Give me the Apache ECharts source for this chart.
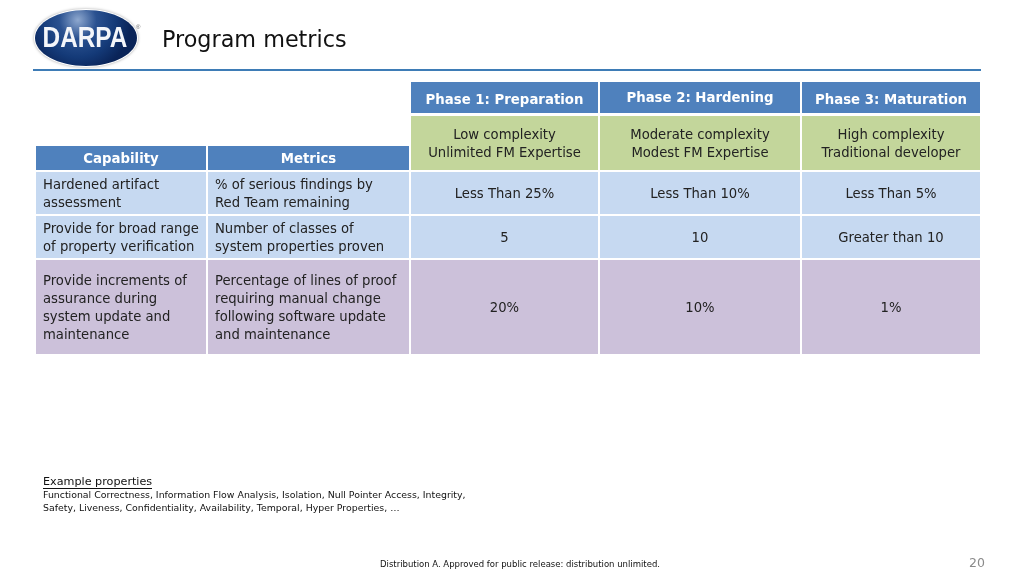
<!DOCTYPE html>
<html><head><meta charset="utf-8">
<script src="https://cdn.jsdelivr.net/npm/echarts@6/dist/echarts.min.js"></script>
<style>html,body{margin:0;padding:0;background:#fff}#c{width:1024px;height:576px}</style>
</head><body><div id="c"></div>
<script>
// ---- data ----
const phases = ['Phase 1: Preparation', 'Phase 2: Hardening', 'Phase 3: Maturation'];
const phaseDescriptions = ['Low complexity\nUnlimited FM Expertise', 'Moderate complexity\nModest FM Expertise', 'High complexity\nTraditional developer'];
const headerLabels = ['Capability', 'Metrics'];
const capabilities = ['Hardened artifact\nassessment', 'Provide for broad range\nof property verification', 'Provide increments of\nassurance during\nsystem update and\nmaintenance'];
const metrics = ['% of serious findings by\nRed Team remaining', 'Number of classes of\nsystem properties proven', 'Percentage of lines of proof\nrequiring manual change\nfollowing software update\nand maintenance'];
const phase1Targets = ['Less Than 25%', '5', '20%'];
const phase2Targets = ['Less Than 10%', '10', '10%'];
const phase3Targets = ['Less Than 5%', 'Greater than 10', '1%'];
const title = 'Program metrics';
const exampleTitle = 'Example properties';
const exampleText = 'Functional Correctness, Information Flow Analysis, Isolation, Null Pointer Access, Integrity,\nSafety, Liveness, Confidentiality, Availability, Temporal, Hyper Properties, …';
const footer = 'Distribution A. Approved for public release: distribution unlimited.';
const pageNumber = '20';

// ---- layout ----
const FONT = 'Tahoma, "DejaVu Sans", Verdana, sans-serif';
const colEdges = [35, 207, 410, 599, 801, 981];
const gap = 1;
const rowBands = { phase: [82, 113], desc: [116, 170], head: [146, 170], body: [[172, 214], [216, 258], [260, 354]] };
const C = { header: '#4F81BD', green: '#C3D69B', blue: '#C6D9F1', purple: '#CCC1DA', text: '#222' };

const targets = [phase1Targets, phase2Targets, phase3Targets];
const cells = [];
phases.forEach((p, i) => cells.push({ c: 2 + i, band: rowBands.phase, text: p, fill: C.header, bold: true, color: '#fff', align: 'center', dy: i === 1 ? -1 : 1 }));
phaseDescriptions.forEach((p, i) => cells.push({ c: 2 + i, band: rowBands.desc, text: p, fill: C.green, color: C.text, align: 'center' }));
headerLabels.forEach((p, i) => cells.push({ c: i, band: rowBands.head, text: p, fill: C.header, bold: true, color: '#fff', align: 'center' }));
capabilities.forEach((cap, r) => {
  const fill = r === 2 ? C.purple : C.blue;
  const band = rowBands.body[r];
  cells.push({ c: 0, band, text: cap, fill, color: C.text, align: 'left' });
  cells.push({ c: 1, band, text: metrics[r], fill, color: C.text, align: 'left' });
  targets.forEach((t, k) => cells.push({ c: 2 + k, band, text: t[r], fill, color: C.text, align: 'center' }));
});

const chart = echarts.init(document.getElementById('c'), null, { renderer: 'canvas' });
chart.setOption({
  backgroundColor: '#fff',
  animation: false,
  grid: { left: 0, right: 0, top: 0, bottom: 0 },
  xAxis: { type: 'value', min: 0, max: 1024, show: false },
  yAxis: { type: 'value', min: 0, max: 576, inverse: true, show: false },
  series: [{
    type: 'custom',
    coordinateSystem: 'cartesian2d',
    data: cells.map((d, i) => [i]),
    renderItem: function (params, api) {
      const d = cells[api.value(0)];
      const p0 = api.coord([colEdges[d.c], d.band[0]]);
      const p1 = api.coord([colEdges[d.c + 1], d.band[1]]);
      const w = p1[0] - p0[0] - gap * 2, h = p1[1] - p0[1];
      const tx = d.align === 'left' ? p0[0] + 8 : (p0[0] + p1[0]) / 2;
      return {
        type: 'group',
        children: [
          { type: 'rect', shape: { x: p0[0] + gap, y: p0[1], width: w, height: h }, style: { fill: d.fill } },
          { type: 'text', x: tx, y: (p0[1] + p1[1]) / 2 + 2 + (d.dy || 0),
            style: { text: d.text, fill: d.color, align: d.align, verticalAlign: 'middle',
              font: (d.bold ? 'bold 13.3px ' : '13.2px ') + FONT, lineHeight: 18 } }
        ]
      };
    }
  }],
  graphic: [
    { type: 'ellipse', shape: { cx: 86, cy: 38, rx: 52, ry: 29 },
      style: { fill: '#fff', shadowBlur: 3, shadowColor: 'rgba(0,0,0,0.35)' } },
    { type: 'ellipse', shape: { cx: 86, cy: 38, rx: 51, ry: 28 },
      style: { fill: { type: 'radial', x: 0.42, y: 0.18, r: 0.95, colorStops: [{ offset: 0, color: '#8ea8cf' }, { offset: 0.35, color: '#2a5190' }, { offset: 0.7, color: '#143a78' }, { offset: 1, color: '#0a2458' }] } } },
    { type: 'text', x: 85, y: 39, scaleX: 0.84, originX: 0,
      style: { text: 'DARPA', fill: '#f4f6fa', font: 'bold 29px "Liberation Sans", Arial, sans-serif', align: 'center', verticalAlign: 'middle' } },
    { type: 'text', x: 136, y: 27, style: { text: '®', fill: '#666', font: '6px sans-serif', align: 'left', verticalAlign: 'middle' } },
    { type: 'text', x: 162, y: 41, style: { text: title, fill: '#111', font: '22.3px ' + FONT, verticalAlign: 'middle' } },
    { type: 'rect', shape: { x: 33, y: 69, width: 948, height: 2 }, style: { fill: '#3E7CB6' } },
    { type: 'text', x: 43, y: 482, style: { text: exampleTitle, fill: '#111', font: '11.2px ' + FONT, verticalAlign: 'middle' } },
    { type: 'rect', shape: { x: 43, y: 488, width: 109, height: 1 }, style: { fill: '#111' } },
    { type: 'text', x: 43, y: 502, style: { text: exampleText, fill: '#111', font: '9.4px ' + FONT, verticalAlign: 'middle', lineHeight: 13.5 } },
    { type: 'text', x: 520, y: 565, style: { text: footer, fill: '#111', font: '8.5px ' + FONT, align: 'center', verticalAlign: 'middle' } },
    { type: 'text', x: 985, y: 564, style: { text: pageNumber, fill: '#8a8a8a', font: '12.5px ' + FONT, align: 'right', verticalAlign: 'middle' } }
  ]
});
</script></body></html>
